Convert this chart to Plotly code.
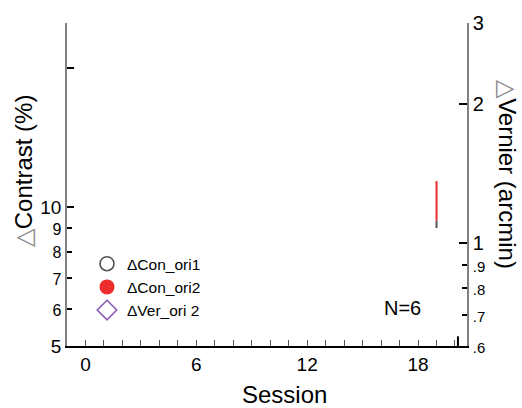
import math
import plotly.graph_objects as go

# ---- data ----
sessions_ticks = [0, 6, 12, 18]
contrast_tickvals = [5, 6, 7, 8, 9, 10, 20]
contrast_ticklabels = ["5", "6", "7", "8", "9", "10", ""]
vernier_tickvals = [0.6, 0.7, 0.8, 0.9, 1, 2, 3]
vernier_ticklabels = [".6", ".7", ".8", ".9", "1", "2", "3"]

legend_names = ["\u0394Con_ori1", "\u0394Con_ori2", "\u0394Ver_ori 2"]

# visible red error segment (session 19, right axis)
err_session = [19, 19]
err_red = [1.12, 1.365]
err_gray = [1.08, 1.12]

FONT = "Liberation Sans, Arial, Helvetica, sans-serif"

def small(t, s):
    return f"<span style='font-size:{s}px'>{t}</span>"

left_text = [small(t, 16) if t in ("6", "7", "8", "9") else t for t in contrast_ticklabels]
right_text = [small(t, 15) if t.startswith(".") else t for t in vernier_ticklabels]

fig = go.Figure()

# legend entries
fig.add_trace(go.Scatter(x=[None], y=[None], mode="markers", name=legend_names[0],
                         marker=dict(symbol="circle-open", size=14, color="#555555",
                                     line=dict(width=1.6, color="#555555"))))
fig.add_trace(go.Scatter(x=[None], y=[None], mode="markers", name=legend_names[1],
                         marker=dict(symbol="circle", size=15, color="#EE2C2C",
                                     line=dict(width=0))))
fig.add_trace(go.Scatter(x=[None], y=[None], mode="markers", name=legend_names[2], yaxis="y2",
                         marker=dict(symbol="diamond-open", size=15, color="#8A5BAF",
                                     line=dict(width=1.6, color="#8A5BAF"))))

fig.add_trace(go.Scatter(x=err_session, y=err_gray, mode="lines", yaxis="y2", showlegend=False,
                         line=dict(color="#555555", width=2), hoverinfo="skip"))
fig.add_trace(go.Scatter(x=err_session, y=err_red, mode="lines", yaxis="y2", showlegend=False,
                         line=dict(color="#EE2C2C", width=2), hoverinfo="skip"))

fig.update_layout(
    width=522, height=408,
    margin=dict(l=67, r=55, t=19, b=62),
    paper_bgcolor="white", plot_bgcolor="white",
    font=dict(family=FONT, color="black"),
    showlegend=True,
    legend=dict(x=0.05, y=0.306, xanchor="left", yanchor="top",
                bgcolor="rgba(0,0,0,0)", font=dict(size=15.5), tracegroupgap=0,
                itemsizing="trace"),
    xaxis=dict(range=[-1, 20.65], showline=True, linecolor="black", linewidth=2,
               ticks="inside", tickvals=sessions_ticks, ticktext=[str(v) for v in sessions_ticks],
               ticklen=6, tickwidth=1, tickcolor="#555555", tickfont=dict(size=19),
               minor=dict(tickmode="linear", tick0=0, dtick=1, ticks="inside",
                          ticklen=6, tickwidth=1, tickcolor="#555555"),
               showgrid=False, zeroline=False, mirror=False),
    yaxis=dict(type="log", range=[math.log10(5), math.log10(25)], showline=True,
               linecolor="#808080", linewidth=1.5, ticks="inside",
               tickvals=contrast_tickvals, ticktext=left_text, ticklen=5, tickwidth=1.5,
               tickcolor="black", tickfont=dict(size=19),
               minor=dict(tickvals=[10, 20], ticks="inside", ticklen=7, tickwidth=2,
                          tickcolor="black"),
               showgrid=False, zeroline=False),
    yaxis2=dict(type="log", range=[math.log10(0.6), math.log10(3)], overlaying="y",
                side="right", anchor="x", showline=True, linecolor="#808080", linewidth=1.5,
                ticks="inside", tickvals=vernier_tickvals, ticktext=right_text, ticklen=5,
                tickwidth=1.5, tickcolor="black", tickfont=dict(size=20),
                minor=dict(tickvals=[1, 2, 3], ticks="inside", ticklen=8, tickwidth=2,
                           tickcolor="black"),
                showgrid=False, zeroline=False),
    shapes=[dict(type="line", xref="x", yref="paper", x0=20.16, x1=20.16, y0=0, y1=0.03,
                 line=dict(color="black", width=2))],
    annotations=[
        dict(text="<span style='color:#888888'>\u25B3</span>Contrast (%)", xref="paper", yref="paper",
             x=-0.11, y=0.541, textangle=-90, showarrow=False, font=dict(size=24),
             xanchor="center", yanchor="middle"),
        dict(text="<span style='color:#888888'>\u25B3</span>Vernier (arcmin)", xref="paper", yref="paper",
             x=1.1025, y=0.532, textangle=90, showarrow=False, font=dict(size=24),
             xanchor="center", yanchor="middle"),
        dict(text="Session", xref="paper", yref="paper", x=0.544, y=-0.15,
             showarrow=False, font=dict(size=24), xanchor="center", yanchor="middle"),
        dict(text="N=6", xref="paper", yref="paper", x=0.8375, y=0.119,
             showarrow=False, font=dict(size=20), xanchor="center", yanchor="middle"),
    ],
)

fig.write_html("out.html", config={"displayModeBar": False},
               post_script="document.body.style.margin='0';document.body.style.padding='0';")
